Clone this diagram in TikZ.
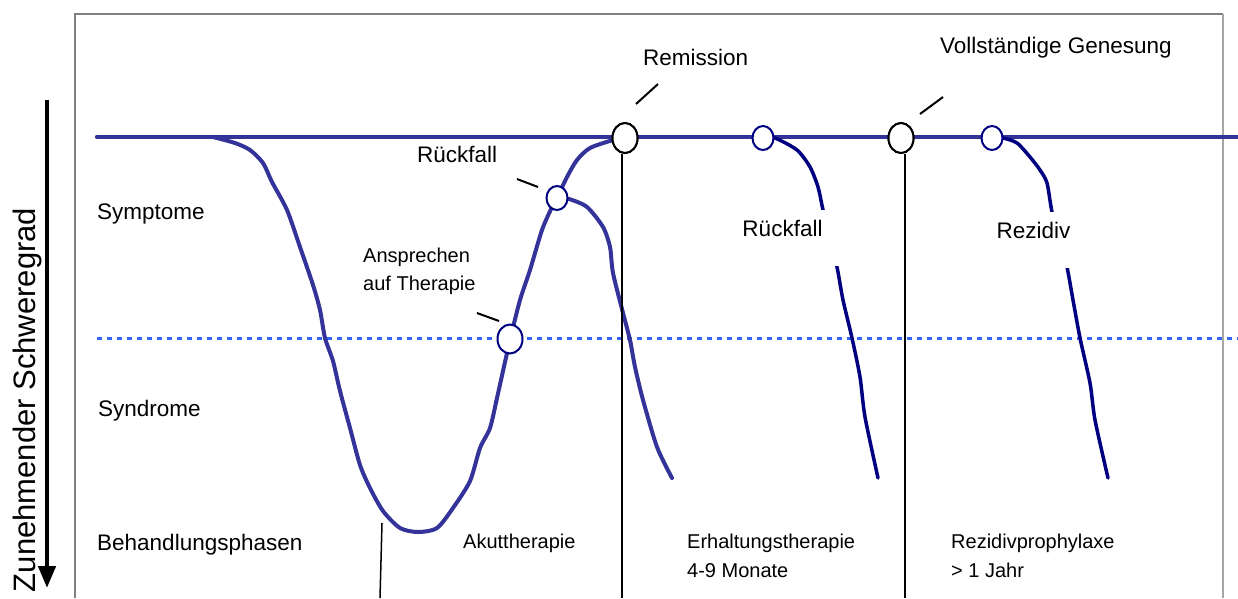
\documentclass[tikz,border=0pt]{standalone}
\usepackage{fontspec}
\setmainfont{Liberation Sans}
\usetikzlibrary{arrows.meta,shapes.geometric}
\definecolor{curveblue}{RGB}{51,51,153}
\definecolor{navyline}{RGB}{0,0,128}
\definecolor{dotblue}{RGB}{51,102,255}
\definecolor{framegray}{RGB}{128,128,128}
\begin{document}
\begin{tikzpicture}[x=1pt,y=-1pt,
  curve/.style={curveblue, line width=4pt, line join=round, line cap=round},
  branch/.style={navyline, line width=3.5pt, line join=round, line cap=round},
  ring/.style={ellipse, draw=navyline, line width=2pt, fill=white, inner sep=0pt, minimum width=21pt, minimum height=24pt},
  bigring/.style={ellipse, draw=black, line width=2pt, fill=white, inner sep=0pt, minimum width=25pt, minimum height=30pt},
  biglabel/.style={font=\fontsize{22.5}{27}\selectfont, inner sep=0pt, anchor=base west},
  smalllabel/.style={font=\fontsize{20}{24}\selectfont, inner sep=0pt, anchor=base west},
  masklabel/.style={font=\fontsize{22.5}{27}\selectfont, fill=white, inner xsep=16pt, inner ysep=0pt, text height=26pt, text depth=30pt, anchor=base},
  leader/.style={black, line width=2pt},
  vline/.style={black, line width=1.5pt}]
\useasboundingbox (0,0) rectangle (1238,598);

% frame
\draw[framegray, line width=2pt] (75,598) -- (75,14) -- (1223,14);
\draw[framegray!70, line width=2pt] (1223,14) -- (1223,598);

% axis arrow and label
\coordinate (axTop) at (47,100);
\coordinate (axBot) at (47,588);
\draw[line width=4.5pt, -{Triangle[length=22pt,width=17pt]}] (axTop) -- (axBot);
\node[font=\fontsize{31}{36}\selectfont, rotate=90, anchor=base, inner sep=0pt] (axlabel) at (35,400) {Zunehmender Schweregrad};

% dotted threshold line
\coordinate (dotStart) at (97,338);
\coordinate (dotEnd) at (1238,338);
\draw[dotblue, line width=3pt, dash pattern=on 5pt off 5pt] (dotStart) -- (dotEnd);

% baseline
\coordinate (baseStart) at (97,137);
\coordinate (baseEnd) at (1238,137);
\draw[curve] (baseStart) -- (baseEnd);

% main curve
\draw[curve] plot[smooth, tension=0.45] coordinates {
 (213,137) (235,143) (250,150) (263,163) (272,182) (287,210) (300,247)
 (313,285) (320,310) (325,338) (333,361) (340,391) (350,428) (360,465)
 (370,488) (383,511) (400,528) (418,532) (437,528) (453,508) (470,481)
 (480,448) (490,428) (497,398) (503,371) (510,340) (520,300) (530,270)
 (542,230) (552,207) (557,198) (567,177) (577,160) (590,148) (613,140) (625,137)};
\draw[curve] (baseStart) -- (213,137);

% relapse branch from Rückfall circle
\draw[curve] plot[smooth, tension=0.45] coordinates {
 (557,198) (569,199) (587,207) (603,227) (610,247) (613,273) (623,313)
 (630,340) (635,367) (643,400) (657,447) (672,478)};

% second relapse branch
\draw[branch] plot[smooth, tension=0.45] coordinates {
 (763,137) (775,138) (797,150) (810,167) (818,187) (823,210) (830,240)
 (837,267) (843,300) (852,338) (860,377) (865,417) (878,478)};

% recurrence branch
\draw[branch] plot[smooth, tension=0.45] coordinates {
 (992,137) (1003,138) (1017,143) (1030,157) (1040,170) (1047,183) (1052,212)
 (1060,240) (1067,267) (1073,300) (1080,338) (1090,383) (1095,420) (1108,478)};

% vertical phase lines
\node[bigring] (rem) at (625,138) {};
\node[bigring] (gen) at (901,138) {};
\coordinate (remEnd) at (622,598);
\coordinate (genEnd) at (905,598);
\coordinate (acuteTop) at (382,523);
\coordinate (acuteEnd) at (380,598);
\draw[vline] (rem.south -| remEnd) -- (remEnd);
\draw[vline] (gen.south -| genEnd) -- (genEnd);
\draw[vline] (acuteTop) -- (acuteEnd);
\node[bigring] at (rem) {};
\node[bigring] at (gen) {};

% small rings
\node[ring, minimum width=25pt, minimum height=29pt] (resp) at (510,339) {};
\node[ring] (rel1) at (557,198) {};
\node[ring] (rel2) at (763,138) {};
\node[ring] (rez) at (992,138) {};

% leader lines
\coordinate (remA) at (636,104); \coordinate (remB) at (658,84);
\coordinate (relA) at (517,179); \coordinate (relB) at (538,187);
\coordinate (respA) at (477,313); \coordinate (respB) at (499,321);
\coordinate (genA) at (920,114); \coordinate (genB) at (943,97);
\draw[leader] (remA) -- (remB);
\draw[leader] (relA) -- (relB);
\draw[leader] (respA) -- (respB);
\draw[leader] (genA) -- (genB);

% labels
\node[biglabel] (lRem) at (643,65) {Remission};
\node[biglabel] (lGen) at (940,53) {Vollständige Genesung};
\node[biglabel] (lRel1) at (417,162) {Rückfall};
\node[smalllabel] (lResp1) at (363,262) {Ansprechen};
\node[smalllabel] (lResp2) at (363,290) {auf Therapie};
\node[masklabel] (lRel2) at (782.5,236) {Rückfall};
\node[masklabel] (lRez) at (1033.5,238) {Rezidiv};
\node[biglabel] (lSym) at (97,219) {Symptome};
\node[biglabel] (lSyn) at (98,416) {Syndrome};
\node[biglabel] (lBeh) at (97,550) {Behandlungsphasen};
\node[smalllabel] (lAku) at (463,548) {Akuttherapie};
\node[smalllabel] (lErh1) at (687,548) {Erhaltungstherapie};
\node[smalllabel] (lErh2) at (687,577) {4-9 Monate};
\node[smalllabel] (lRzp1) at (951,548) {Rezidivprophylaxe};
\node[smalllabel] (lRzp2) at (951,577) {> 1 Jahr};
\end{tikzpicture}
\end{document}
